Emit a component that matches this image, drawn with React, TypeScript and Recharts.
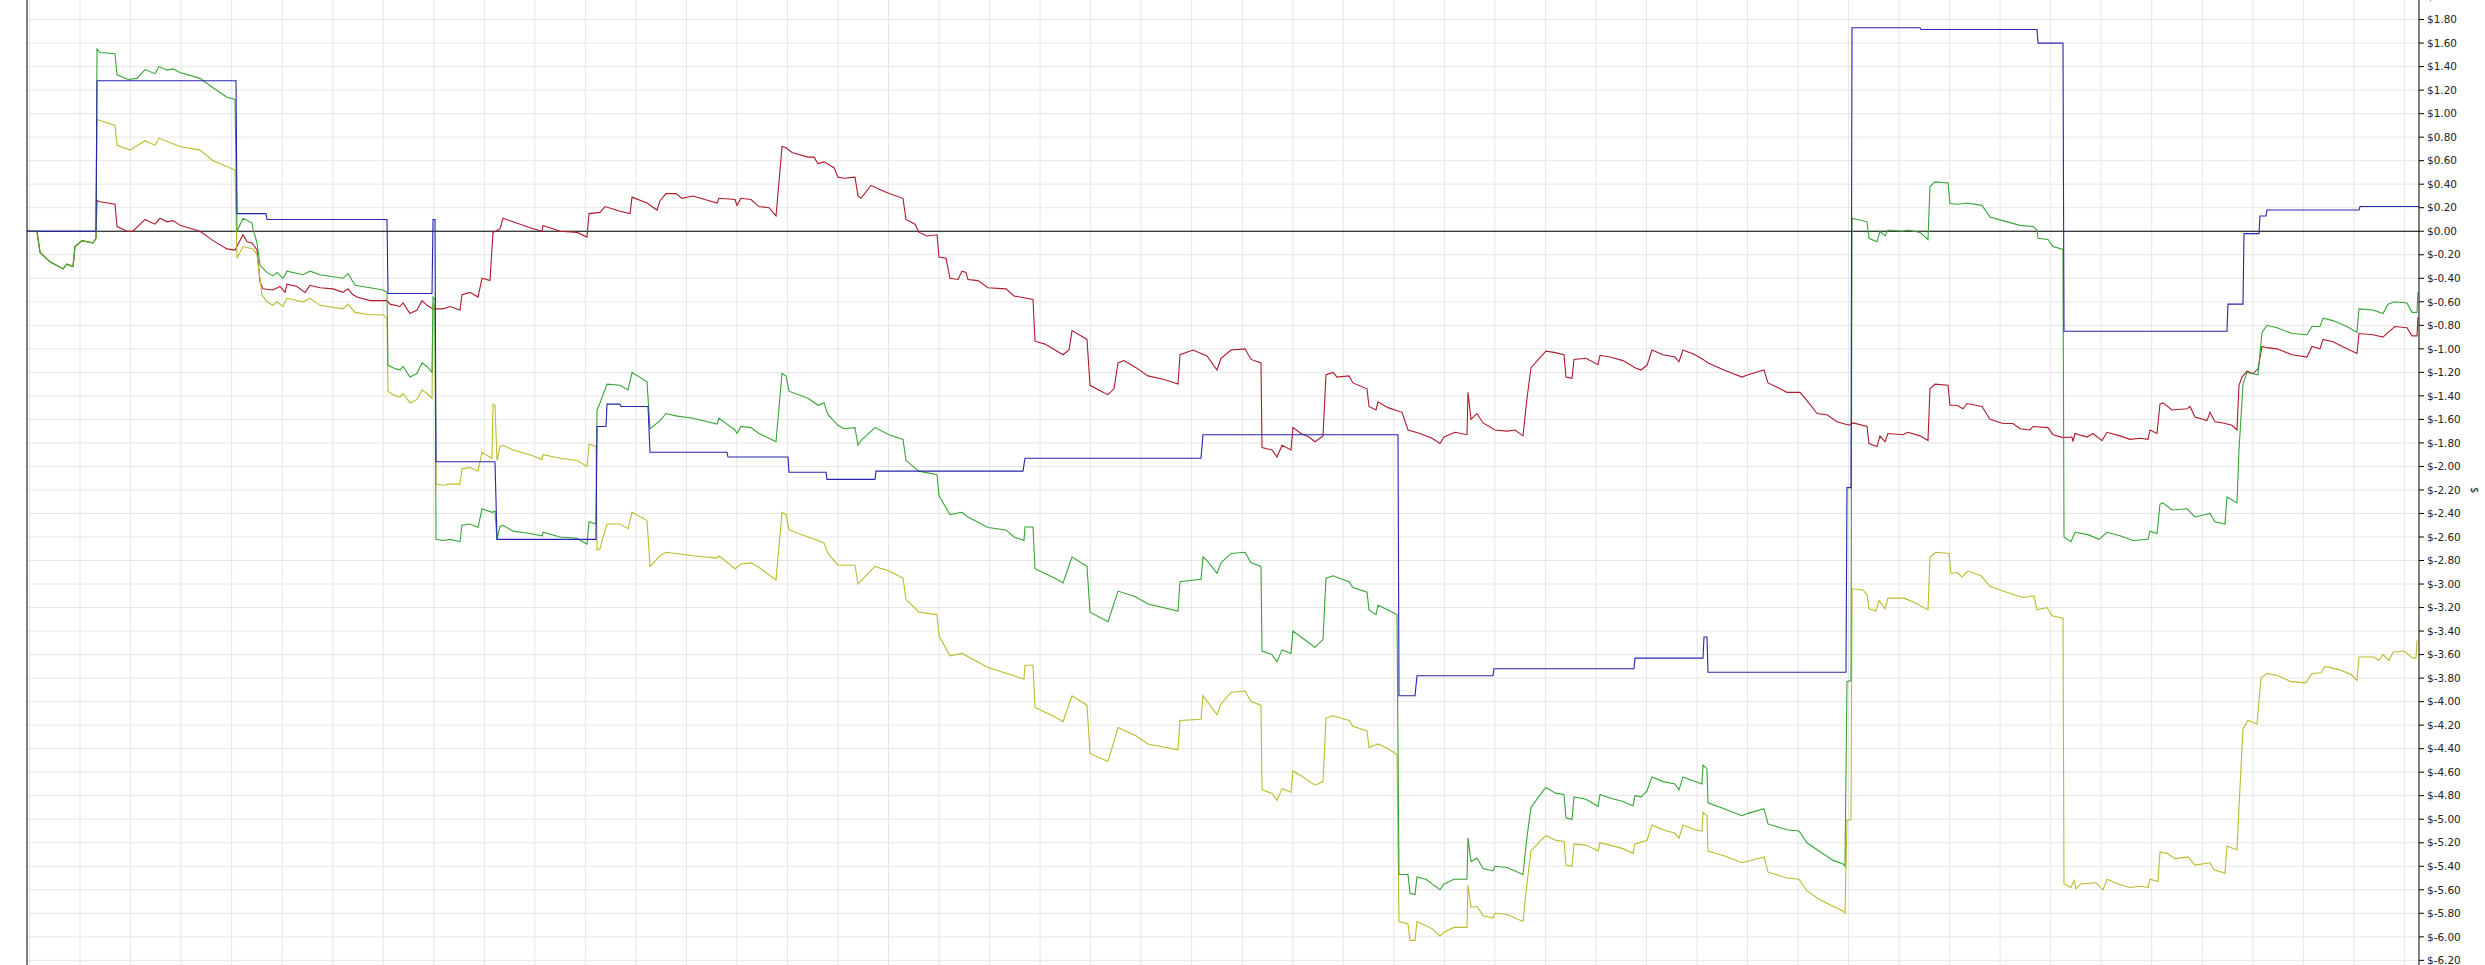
import React from 'react';
import { LineChart, Line, XAxis, YAxis, CartesianGrid, ReferenceLine } from 'recharts';

type Pt = [number, number];

const COLORS = {
  red: '#b01a2c',
  green: '#36a536',
  yellow: '#bcbc2c',
  blue: '#2626b0',
  grid: '#e6e6e6',
  axis: '#000000',
  text: '#222222',
};

// shared opening stretch before the first position (all three P&L lines overlap)
const START: Pt[] = [
  [0, 0], [10, 0], [13, -0.18], [23, -0.26], [36, -0.32], [40, -0.28], [46, -0.3],
  [48, -0.13], [55, -0.08], [66, -0.1], [69, -0.06],
];

const RED: Pt[] = [
  ...START,
  [70, 0.26], [73, 0.25], [88, 0.23], [90, 0.04], [100, 0], [106, 0], [118, 0.1], [128, 0.06],
  [133, 0.11], [140, 0.08], [146, 0.09], [153, 0.05], [173, 0], [186, -0.08], [200, -0.15],
  [208, -0.16], [216, -0.03], [220, -0.09], [225, -0.1], [230, -0.16], [233, -0.43], [236, -0.49],
  [246, -0.5], [253, -0.47], [258, -0.52], [260, -0.45], [270, -0.47], [278, -0.52], [283, -0.46],
  [293, -0.48], [306, -0.49], [316, -0.52], [321, -0.49], [326, -0.54], [330, -0.56], [343, -0.59],
  [360, -0.59], [363, -0.62], [373, -0.64], [376, -0.61], [383, -0.7], [390, -0.67], [395, -0.59],
  [400, -0.63], [406, -0.66], [416, -0.66], [423, -0.64], [433, -0.67], [435, -0.54], [443, -0.52],
  [451, -0.56], [455, -0.4], [463, -0.42], [466, -0.01], [473, 0.02], [476, 0.11], [486, 0.08],
  [503, 0.03], [515, 0], [516, 0.05], [533, 0], [550, -0.01], [560, -0.05], [562, 0.15],
  [573, 0.16], [578, 0.21], [593, 0.17], [603, 0.15], [605, 0.29], [620, 0.24], [630, 0.18],
  [633, 0.26], [639, 0.32], [649, 0.32], [655, 0.28], [666, 0.3], [690, 0.24], [692, 0.28],
  [708, 0.27], [710, 0.22], [714, 0.28], [724, 0.27], [732, 0.21], [742, 0.2], [749, 0.13],
  [753, 0.52], [755, 0.72], [759, 0.71], [765, 0.67], [781, 0.63], [787, 0.63], [791, 0.575],
  [797, 0.59], [807, 0.54], [811, 0.46], [817, 0.45], [828, 0.46], [831, 0.3], [834, 0.28],
  [844, 0.39], [854, 0.35], [862, 0.32], [876, 0.28], [879, 0.1], [888, 0.06], [892, -0.01],
  [900, -0.04], [910, -0.03], [912, -0.22], [919, -0.23], [923, -0.4], [931, -0.41], [935, -0.34],
  [939, -0.35], [941, -0.41], [951, -0.42], [961, -0.48], [979, -0.49], [987, -0.55], [1006, -0.58],
  [1008, -0.935], [1018, -0.96], [1028, -1.01], [1036, -1.05], [1042, -1.01], [1045, -0.845],
  [1060, -0.92], [1063, -1.31], [1074, -1.36], [1081, -1.39], [1087, -1.34], [1091, -1.12],
  [1097, -1.1], [1109, -1.16], [1121, -1.23], [1137, -1.26], [1151, -1.3], [1153, -1.05],
  [1166, -1.01], [1180, -1.06], [1190, -1.18], [1194, -1.08], [1204, -1.01], [1218, -1.0],
  [1224, -1.09], [1234, -1.12], [1235, -1.84], [1245, -1.86], [1250, -1.92], [1255, -1.82],
  [1264, -1.86], [1266, -1.67], [1274, -1.72], [1282, -1.75], [1288, -1.79], [1296, -1.74],
  [1299, -1.22], [1306, -1.2], [1310, -1.24], [1322, -1.23], [1326, -1.29], [1340, -1.34],
  [1342, -1.49], [1349, -1.52], [1351, -1.45], [1361, -1.5], [1375, -1.54], [1381, -1.69],
  [1393, -1.72], [1405, -1.76], [1413, -1.805], [1417, -1.75], [1428, -1.71], [1440, -1.73],
  [1441, -1.37], [1444, -1.6], [1450, -1.55], [1456, -1.63], [1468, -1.69], [1480, -1.7],
  [1488, -1.69], [1496, -1.74], [1500, -1.42], [1504, -1.16], [1515, -1.055], [1519, -1.02],
  [1527, -1.03], [1537, -1.05], [1539, -1.24], [1545, -1.25], [1547, -1.09], [1559, -1.08],
  [1571, -1.135], [1573, -1.055], [1583, -1.07], [1596, -1.1], [1608, -1.16], [1614, -1.18],
  [1620, -1.14], [1625, -1.01], [1636, -1.05], [1648, -1.07], [1652, -1.11], [1656, -1.01],
  [1668, -1.05], [1676, -1.09], [1681, -1.12], [1697, -1.18], [1715, -1.24], [1721, -1.22],
  [1737, -1.18], [1741, -1.29], [1751, -1.33], [1760, -1.37], [1773, -1.37], [1780, -1.44],
  [1790, -1.55], [1800, -1.56], [1810, -1.62], [1822, -1.65], [1826, -1.63], [1840, -1.66],
  [1842, -1.805], [1850, -1.83], [1853, -1.74], [1858, -1.79], [1861, -1.72], [1876, -1.73],
  [1881, -1.71], [1893, -1.74], [1901, -1.78], [1903, -1.34], [1908, -1.3], [1921, -1.31],
  [1923, -1.48], [1930, -1.48], [1936, -1.51], [1940, -1.465], [1955, -1.49], [1963, -1.6],
  [1976, -1.635], [1986, -1.635], [1993, -1.68], [2003, -1.69], [2006, -1.66], [2021, -1.67],
  [2026, -1.73], [2036, -1.755], [2045, -1.75], [2046, -1.79], [2048, -1.72], [2060, -1.75],
  [2066, -1.72], [2075, -1.78], [2080, -1.71], [2093, -1.74], [2103, -1.77], [2113, -1.76],
  [2121, -1.77], [2123, -1.69], [2130, -1.72], [2133, -1.47], [2136, -1.46], [2145, -1.52],
  [2160, -1.51], [2163, -1.49], [2168, -1.58], [2180, -1.61], [2183, -1.54], [2188, -1.62],
  [2196, -1.63], [2205, -1.65], [2210, -1.69], [2212, -1.31], [2215, -1.24], [2220, -1.19],
  [2226, -1.21], [2231, -1.17], [2235, -0.98], [2240, -0.99], [2250, -1.0], [2265, -1.05],
  [2280, -1.07], [2285, -0.98], [2293, -1.0], [2296, -0.92], [2306, -0.94], [2320, -1.0],
  [2330, -1.04], [2332, -0.87], [2346, -0.88], [2356, -0.9], [2361, -0.86], [2368, -0.81],
  [2380, -0.82], [2385, -0.89], [2390, -0.89], [2391, -0.73],
];

const GREEN: Pt[] = [
  ...START,
  [70, 1.55], [73, 1.52], [88, 1.51], [90, 1.33], [101, 1.29], [110, 1.3], [118, 1.375],
  [128, 1.34], [132, 1.4], [140, 1.37], [146, 1.38], [153, 1.35], [173, 1.3], [186, 1.22],
  [200, 1.14], [208, 1.12], [210, 0], [216, 0.11], [225, 0.07], [226, 0.02], [230, -0.1],
  [233, -0.29], [240, -0.35], [246, -0.38], [250, -0.35], [256, -0.4], [260, -0.34], [276, -0.37],
  [283, -0.34], [293, -0.37], [316, -0.4], [321, -0.36], [328, -0.46], [343, -0.48], [356, -0.5],
  [360, -0.52], [361, -1.14], [366, -1.16], [373, -1.18], [376, -1.15], [383, -1.24], [390, -1.21],
  [395, -1.12], [400, -1.15], [405, -1.2], [406, -0.56], [408, -0.58], [409, -2.62], [416, -2.63],
  [423, -2.62], [433, -2.64], [435, -2.5], [443, -2.49], [451, -2.52], [455, -2.36], [465, -2.39],
  [468, -2.38], [470, -2.62], [473, -2.51], [476, -2.5], [486, -2.55], [503, -2.57], [515, -2.59],
  [516, -2.56], [533, -2.6], [550, -2.61], [560, -2.66], [562, -2.47], [569, -2.49], [570, -1.52],
  [573, -1.46], [580, -1.3], [593, -1.31], [601, -1.35], [605, -1.2], [620, -1.28], [623, -1.68],
  [633, -1.61], [639, -1.55], [649, -1.57], [666, -1.59], [690, -1.64], [692, -1.59], [700, -1.64],
  [708, -1.69], [710, -1.72], [714, -1.66], [724, -1.67], [732, -1.72], [749, -1.79], [755, -1.21],
  [759, -1.23], [762, -1.36], [781, -1.42], [791, -1.48], [797, -1.46], [801, -1.56], [811, -1.65],
  [817, -1.68], [828, -1.67], [831, -1.82], [834, -1.78], [848, -1.67], [862, -1.73], [876, -1.77],
  [879, -1.95], [892, -2.04], [910, -2.07], [912, -2.25], [923, -2.41], [935, -2.39], [941, -2.43],
  [961, -2.52], [979, -2.54], [987, -2.6], [997, -2.63], [998, -2.515], [1006, -2.515],
  [1008, -2.87], [1028, -2.95], [1036, -2.99], [1045, -2.77], [1060, -2.85], [1063, -3.24],
  [1081, -3.32], [1091, -3.06], [1109, -3.11], [1121, -3.17], [1151, -3.23], [1153, -2.98],
  [1174, -2.96], [1176, -2.77], [1180, -2.8], [1190, -2.91], [1194, -2.82], [1204, -2.74],
  [1218, -2.73], [1224, -2.82], [1234, -2.85], [1235, -3.57], [1245, -3.6], [1250, -3.66],
  [1255, -3.56], [1264, -3.59], [1266, -3.4], [1274, -3.45], [1288, -3.54], [1296, -3.47],
  [1299, -2.95], [1306, -2.93], [1322, -2.98], [1326, -3.03], [1340, -3.07], [1342, -3.22],
  [1349, -3.26], [1351, -3.18], [1361, -3.22], [1370, -3.26], [1372, -5.47], [1381, -5.47],
  [1383, -5.63], [1388, -5.64], [1390, -5.49], [1399, -5.51], [1405, -5.55], [1413, -5.6],
  [1417, -5.55], [1427, -5.51], [1440, -5.51], [1441, -5.16], [1444, -5.36], [1450, -5.33],
  [1456, -5.42], [1466, -5.44], [1468, -5.4], [1480, -5.41], [1496, -5.47], [1500, -5.15],
  [1504, -4.9], [1515, -4.77], [1519, -4.73], [1529, -4.78], [1537, -4.79], [1539, -4.99],
  [1545, -5.0], [1547, -4.81], [1559, -4.83], [1571, -4.89], [1573, -4.79], [1583, -4.82],
  [1596, -4.85], [1606, -4.885], [1608, -4.8], [1614, -4.81], [1620, -4.76], [1625, -4.64],
  [1636, -4.68], [1648, -4.7], [1652, -4.75], [1656, -4.64], [1668, -4.68], [1675, -4.7],
  [1676, -4.54], [1680, -4.57], [1681, -4.86], [1697, -4.91], [1715, -4.97], [1721, -4.95],
  [1737, -4.91], [1741, -5.04], [1760, -5.09], [1772, -5.1], [1780, -5.2], [1792, -5.27],
  [1806, -5.35], [1816, -5.38], [1818, -5.4], [1820, -3.83], [1824, -3.82], [1825, 0.11],
  [1840, 0.08], [1842, -0.06], [1850, -0.09], [1853, 0], [1858, -0.04], [1861, 0.01], [1876, 0],
  [1881, 0.01], [1893, -0.01], [1901, -0.07], [1903, 0.38], [1908, 0.42], [1921, 0.41],
  [1923, 0.235], [1930, 0.23], [1940, 0.24], [1955, 0.22], [1963, 0.12], [1976, 0.09], [1993, 0.05],
  [2006, 0.04], [2010, 0.01], [2011, -0.06], [2021, -0.07], [2026, -0.13], [2036, -0.155],
  [2037, -2.6], [2044, -2.64], [2048, -2.56], [2061, -2.58], [2072, -2.62], [2080, -2.56],
  [2093, -2.59], [2106, -2.63], [2121, -2.62], [2123, -2.55], [2130, -2.57], [2133, -2.32],
  [2136, -2.31], [2145, -2.37], [2160, -2.36], [2168, -2.43], [2183, -2.4], [2188, -2.47],
  [2198, -2.49], [2200, -2.26], [2210, -2.31], [2212, -1.86], [2216, -1.3], [2220, -1.2],
  [2231, -1.22], [2235, -0.86], [2240, -0.8], [2250, -0.82], [2265, -0.87], [2280, -0.88],
  [2285, -0.81], [2293, -0.81], [2296, -0.74], [2306, -0.76], [2320, -0.81], [2330, -0.86],
  [2332, -0.66], [2346, -0.67], [2356, -0.7], [2361, -0.62], [2368, -0.6], [2380, -0.61],
  [2385, -0.69], [2390, -0.69], [2391, -0.52],
];

const YELLOW: Pt[] = [
  ...START,
  [70, 0.95], [88, 0.9], [90, 0.73], [103, 0.69], [118, 0.77], [128, 0.73], [132, 0.79],
  [153, 0.72], [173, 0.69], [186, 0.6], [200, 0.55], [208, 0.52], [210, -0.23], [216, -0.13],
  [226, -0.15], [230, -0.2], [235, -0.54], [240, -0.6], [246, -0.63], [250, -0.6], [256, -0.64],
  [260, -0.57], [276, -0.6], [283, -0.57], [293, -0.63], [316, -0.66], [321, -0.62], [328, -0.69],
  [343, -0.71], [356, -0.71], [360, -0.74], [361, -1.36], [366, -1.39], [373, -1.41], [376, -1.38],
  [383, -1.46], [390, -1.43], [395, -1.35], [400, -1.38], [405, -1.42], [406, -0.62], [408, -0.64],
  [409, -2.15], [416, -2.16], [423, -2.15], [433, -2.15], [435, -2.02], [443, -2.01], [451, -2.04],
  [455, -1.88], [465, -1.93], [466, -1.47], [468, -1.48], [470, -1.95], [473, -1.83], [476, -1.82],
  [486, -1.86], [503, -1.9], [515, -1.94], [516, -1.9], [533, -1.93], [550, -1.95], [560, -2.0],
  [562, -1.81], [569, -1.83], [570, -2.71], [573, -2.7], [575, -2.63], [580, -2.49], [593, -2.49],
  [601, -2.53], [605, -2.39], [620, -2.46], [623, -2.85], [633, -2.76], [639, -2.73], [649, -2.74],
  [666, -2.76], [690, -2.78], [692, -2.76], [708, -2.87], [714, -2.83], [724, -2.82], [732, -2.86],
  [749, -2.965], [755, -2.39], [759, -2.41], [762, -2.54], [781, -2.6], [791, -2.63], [797, -2.65],
  [801, -2.74], [811, -2.84], [828, -2.84], [831, -3.0], [834, -2.97], [848, -2.85], [862, -2.89],
  [876, -2.95], [879, -3.13], [892, -3.24], [910, -3.26], [912, -3.44], [923, -3.61], [935, -3.59],
  [961, -3.71], [987, -3.78], [997, -3.81], [998, -3.69], [1006, -3.69], [1008, -4.05],
  [1028, -4.13], [1036, -4.17], [1045, -3.95], [1060, -4.03], [1063, -4.44], [1081, -4.51],
  [1091, -4.22], [1109, -4.29], [1121, -4.36], [1151, -4.41], [1153, -4.16], [1174, -4.15],
  [1176, -3.95], [1190, -4.11], [1194, -4.02], [1204, -3.92], [1218, -3.91], [1224, -4.0],
  [1234, -4.03], [1235, -4.75], [1245, -4.78], [1250, -4.84], [1255, -4.74], [1264, -4.77],
  [1266, -4.59], [1274, -4.63], [1288, -4.71], [1296, -4.68], [1299, -4.14], [1306, -4.12],
  [1322, -4.16], [1326, -4.21], [1340, -4.25], [1342, -4.39], [1351, -4.36], [1361, -4.4],
  [1370, -4.45], [1372, -5.87], [1381, -5.89], [1383, -6.03], [1388, -6.03], [1390, -5.87],
  [1405, -5.93], [1413, -5.995], [1417, -5.96], [1427, -5.92], [1440, -5.92], [1441, -5.56],
  [1444, -5.75], [1450, -5.74], [1456, -5.82], [1466, -5.84], [1468, -5.8], [1480, -5.81],
  [1496, -5.87], [1500, -5.545], [1504, -5.27], [1515, -5.17], [1519, -5.14], [1529, -5.18],
  [1537, -5.19], [1539, -5.39], [1545, -5.4], [1547, -5.21], [1559, -5.22], [1571, -5.27],
  [1573, -5.2], [1583, -5.22], [1596, -5.25], [1606, -5.29], [1608, -5.21], [1620, -5.18],
  [1625, -5.05], [1636, -5.09], [1648, -5.12], [1652, -5.16], [1656, -5.05], [1668, -5.09],
  [1675, -5.1], [1676, -4.94], [1680, -4.97], [1681, -5.27], [1697, -5.31], [1715, -5.37],
  [1737, -5.32], [1741, -5.45], [1760, -5.5], [1772, -5.51], [1780, -5.61], [1792, -5.68],
  [1806, -5.74], [1816, -5.78], [1818, -5.8], [1820, -5.01], [1824, -5.0], [1825, -3.04],
  [1836, -3.05], [1840, -3.09], [1842, -3.21], [1849, -3.23], [1852, -3.14], [1858, -3.21],
  [1861, -3.12], [1877, -3.12], [1888, -3.16], [1901, -3.22], [1903, -2.77], [1909, -2.73],
  [1922, -2.74], [1924, -2.91], [1930, -2.9], [1935, -2.94], [1941, -2.89], [1954, -2.93],
  [1963, -3.02], [1976, -3.06], [1990, -3.1], [1997, -3.115], [2007, -3.1], [2010, -3.22],
  [2020, -3.2], [2025, -3.27], [2036, -3.29], [2037, -5.55], [2044, -5.58], [2047, -5.52],
  [2049, -5.59], [2054, -5.55], [2069, -5.54], [2076, -5.6], [2080, -5.51], [2091, -5.55],
  [2103, -5.58], [2114, -5.57], [2121, -5.58], [2123, -5.51], [2131, -5.53], [2133, -5.28],
  [2140, -5.29], [2148, -5.335], [2161, -5.32], [2168, -5.39], [2183, -5.37], [2187, -5.43],
  [2198, -5.46], [2200, -5.23], [2210, -5.26], [2212, -4.9], [2216, -4.23], [2221, -4.16],
  [2230, -4.19], [2234, -3.8], [2240, -3.76], [2251, -3.78], [2264, -3.83], [2279, -3.84],
  [2285, -3.76], [2294, -3.755], [2298, -3.7], [2313, -3.73], [2324, -3.77], [2330, -3.82],
  [2332, -3.62], [2347, -3.62], [2352, -3.65], [2356, -3.6], [2362, -3.65], [2366, -3.58],
  [2377, -3.57], [2386, -3.63], [2389, -3.63], [2390, -3.48],
];

const BLUE: Pt[] = [
  [0, 0], [69, 0], [70, 1.28], [209, 1.28], [210, 0.15], [239, 0.15], [240, 0.1], [360, 0.1],
  [361, -0.53], [405, -0.53], [406, 0.1], [408, 0.1], [409, -1.96], [468, -1.96], [470, -2.62],
  [569, -2.62], [570, -1.66], [579, -1.66], [580, -1.47], [593, -1.47], [594, -1.49], [621, -1.49],
  [623, -1.88], [700, -1.88], [701, -1.92], [761, -1.92], [762, -2.05], [799, -2.05], [800, -2.11],
  [848, -2.11], [849, -2.04], [996, -2.04], [998, -1.93], [1174, -1.93], [1176, -1.73],
  [1371, -1.73], [1372, -3.95], [1388, -3.95], [1390, -3.78], [1466, -3.78], [1467, -3.72],
  [1607, -3.72], [1608, -3.63], [1676, -3.63], [1677, -3.45], [1680, -3.45], [1681, -3.75],
  [1819, -3.75], [1820, -2.18], [1824, -2.18], [1825, 1.73], [1893, 1.73], [1894, 1.715],
  [2010, 1.715], [2011, 1.6], [2036, 1.6], [2037, -0.85], [2200, -0.85], [2201, -0.62],
  [2216, -0.62], [2217, -0.02], [2232, -0.02], [2233, 0.13], [2239, 0.13], [2240, 0.18],
  [2332, 0.18], [2333, 0.21], [2392, 0.21],
];

const Y_TICKS = [
  2.2, 2.0, 1.8, 1.6, 1.4, 1.2, 1.0, 0.8, 0.6, 0.4, 0.2, 0, -0.2, -0.4, -0.6, -0.8, -1.0, -1.2,
  -1.4, -1.6, -1.8, -2.0, -2.2, -2.4, -2.6, -2.8, -3.0, -3.2, -3.4, -3.6, -3.8, -4.0, -4.2, -4.4,
  -4.6, -4.8, -5.0, -5.2, -5.4, -5.6, -5.8, -6.0, -6.2, -6.4,
];

const Y_DOMAIN: [number, number] = [-6.6, 2.4];
const X_DOMAIN: [number, number] = [0, 2392];
const X_GRID = Array.from({ length: 48 }, (_, i) => 2.5 + i * 50.53);

const PX_PER_DOLLAR = 117.6;
const PLOT_H = (Y_DOMAIN[1] - Y_DOMAIN[0]) * PX_PER_DOLLAR;
const ZERO_Y = 231;
const X_AXIS_H = 30;

const toRows = (pts: Pt[]) => pts.map(([t, v]) => ({ t, v }));

const fmt = (v: number) => `$${v.toFixed(2)}`;

// map the grid's time values through the plot's horizontal extent
const gridXs = ({ offset }: any) => {
  if (!offset) return [];
  const span = X_DOMAIN[1] - X_DOMAIN[0];
  return X_GRID.map((t) => offset.left + ((t - X_DOMAIN[0]) / span) * offset.width);
};

const DollarLabel = ({ viewBox }: any) => {
  const x = viewBox.x + 56;
  const y = viewBox.y + viewBox.height / 2 + 12;
  return (
    <text
      x={x}
      y={y}
      transform={`rotate(90, ${x}, ${y})`}
      textAnchor="middle"
      dominantBaseline="central"
      fontSize={10.5}
      fontFamily="DejaVu Sans"
      fill={COLORS.text}
    >
      $
    </text>
  );
};

const series = [
  { key: 'red', data: RED, color: COLORS.red },
  { key: 'yellow', data: YELLOW, color: COLORS.yellow },
  { key: 'green', data: GREEN, color: COLORS.green },
  { key: 'blue', data: BLUE, color: COLORS.blue },
];

export default function App() {
  const top = ZERO_Y - Y_DOMAIN[1] * PX_PER_DOLLAR;
  return (
    <div style={{ position: 'absolute', left: 0, top: 0, width: 2485, height: 965, overflow: 'hidden', background: '#fff' }}>
      <div style={{ position: 'absolute', left: 0, top }}>
        <LineChart width={2485} height={PLOT_H + X_AXIS_H} margin={{ top: 0, right: 0, bottom: 0, left: 0 }}>
          <CartesianGrid
            stroke={COLORS.grid}
            strokeWidth={1}
            verticalCoordinatesGenerator={gridXs}
          />
          <XAxis
            type="number"
            dataKey="t"
            domain={X_DOMAIN}
            ticks={X_GRID}
            allowDataOverflow
            tick={false}
            tickLine={false}
            height={X_AXIS_H}
            axisLine={{ stroke: COLORS.axis }}
          />
          <YAxis
            yAxisId="left"
            orientation="left"
            type="number"
            domain={Y_DOMAIN}
            ticks={Y_TICKS}
            allowDataOverflow
            width={27}
            tick={false}
            tickLine={false}
            axisLine={{ stroke: COLORS.axis }}
          />
          <YAxis
            orientation="right"
            type="number"
            domain={Y_DOMAIN}
            ticks={Y_TICKS}
            allowDataOverflow
            interval={0}
            width={66}
            tickSize={5}
            tickMargin={3}
            tickFormatter={fmt}
            tick={{ fontSize: 10.5, fontFamily: 'DejaVu Sans', fill: COLORS.text }}
            tickLine={{ stroke: COLORS.axis }}
            axisLine={{ stroke: COLORS.axis }}
            label={{ content: DollarLabel }}
          />
          <ReferenceLine y={0} stroke={COLORS.axis} strokeWidth={1} />
          {series.map((s) => (
            <Line
              key={s.key}
              data={toRows(s.data)}
              dataKey="v"
              type="linear"
              stroke={s.color}
              strokeWidth={1.1}
              dot={false}
              activeDot={false}
              isAnimationActive={false}
            />
          ))}
        </LineChart>
      </div>
    </div>
  );
}
